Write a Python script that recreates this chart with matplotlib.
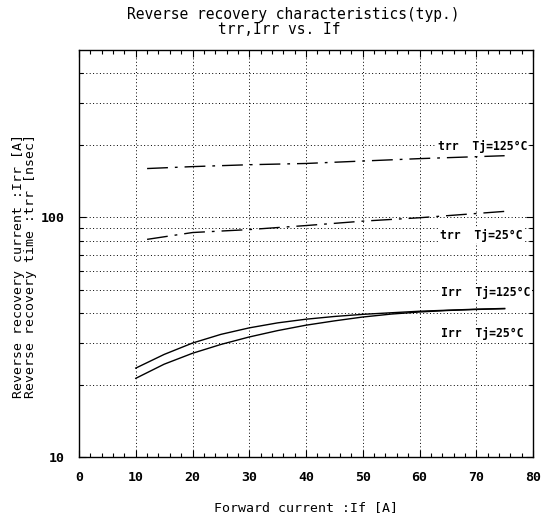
import numpy as np
import matplotlib.pyplot as plt
from matplotlib.ticker import FixedLocator, NullFormatter, MultipleLocator

plt.rcParams['font.family'] = ['DejaVu Sans Mono', 'DejaVu Sans']

# trr curves [nsec]
if_trr = [12, 20, 30, 40, 50, 60, 75]
trr_125 = [160, 163, 166, 168, 172, 176, 181]
trr_25 = [81, 86.5, 89, 92.5, 96.5, 99.7, 106]

# Irr curves [A]
if_irr = [10, 15, 20, 25, 30, 35, 40, 45, 50, 55, 60, 65, 70, 75]
irr_125 = [23.5, 26.8, 29.9, 32.5, 34.6, 36.3, 37.6, 38.6, 39.4, 40.0, 40.6, 41.0, 41.4, 41.7]
irr_25 = [21.3, 24.4, 27.1, 29.5, 31.7, 33.7, 35.5, 37.0, 38.4, 39.5, 40.3, 40.9, 41.3, 41.6]

labels = ['trr  Tj=125\u00b0C', 'trr  Tj=25\u00b0C', 'Irr  Tj=125\u00b0C', 'Irr  Tj=25\u00b0C']
label_x = [63.2, 63.6, 63.8, 63.8]
label_y = [197, 84, 48.7, 32.8]

fig = plt.figure(figsize=(5.41, 5.22), dpi=100)
ax = fig.add_axes([79/541, 1-457/522, (533-79)/541, (457-50)/522])

dashdot = (0, (15, 5, 2, 5))
ax.plot(if_trr, trr_125, color='black', lw=1.0, linestyle=dashdot)
ax.plot(if_trr, trr_25, color='black', lw=1.0, linestyle=dashdot)
ax.plot(if_irr, irr_125, color='black', lw=1.0)
ax.plot(if_irr, irr_25, color='black', lw=1.0)

ax.set_yscale('log')
ax.set_xlim(0, 80)
ax.set_ylim(10, 500)

ax.xaxis.set_major_locator(MultipleLocator(10))
ax.xaxis.set_minor_locator(MultipleLocator(2))
ax.yaxis.set_major_locator(FixedLocator([10, 100]))
ax.yaxis.set_minor_locator(FixedLocator([20, 30, 40, 50, 60, 70, 80, 90, 200, 300, 400]))
ax.yaxis.set_minor_formatter(NullFormatter())
ax.set_yticklabels(['10', '100'])

grid_kw = dict(color='black', lw=0.7, linestyle=(0, (1, 2.5)))
for xv in range(10, 80, 10):
    ax.axvline(xv, **grid_kw, zorder=1)
for yv in [20, 30, 40, 50, 60, 70, 80, 90, 100, 200, 300, 400]:
    ax.axhline(yv, **grid_kw, zorder=1)

ax.tick_params(which='both', direction='in', top=True, right=True,
               labelsize=9.5, width=0.8)
ax.tick_params(which='major', length=5, pad=10)
ax.tick_params(which='minor', length=3)
for lab in ax.get_xticklabels() + ax.get_yticklabels():
    lab.set_fontweight('bold')
for s in ax.spines.values():
    s.set_linewidth(1.0)

for t, x, y in zip(labels, label_x, label_y):
    ax.text(x, y, t, fontsize=8.3, fontweight='bold', va='center', ha='left',
            bbox=dict(facecolor='white', edgecolor='none', pad=1.0), zorder=2.2)

ax.set_xlabel('Forward current :If [A]', fontsize=9.5, labelpad=12)

fig.text(19/541, 1-266/522, 'Reverse recovery current :Irr [A]', rotation=90,
         fontsize=9.5, ha='center', va='center')
fig.text(31/541, 1-266/522, 'Reverse recovery time :trr [nsec]', rotation=90,
         fontsize=9.5, ha='center', va='center')

fig.text(293/541, 1-15/522, 'Reverse recovery characteristics(typ.)',
         fontsize=10.5, ha='center', va='center')
fig.text(279/541, 1-30/522, 'trr,Irr vs. If', fontsize=10.5, ha='center', va='center')

fig.savefig('out.png', dpi=100)
